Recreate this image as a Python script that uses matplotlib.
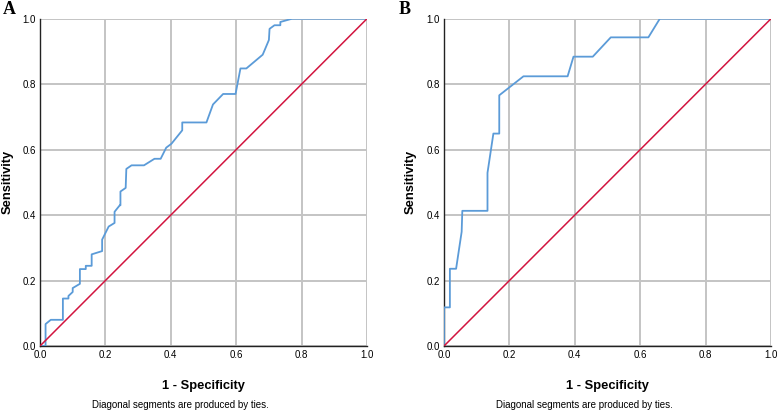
import numpy as np
import matplotlib
matplotlib.use("Agg")
import matplotlib.pyplot as plt

# ROC curve A (1 - specificity, sensitivity)
fpr_a = [0.0, 0.017, 0.017, 0.033, 0.07, 0.07, 0.087, 0.087, 0.10, 0.10, 0.122, 0.122,
         0.14, 0.14, 0.158, 0.158, 0.19, 0.19, 0.21, 0.228, 0.228, 0.244, 0.246, 0.246,
         0.262, 0.264, 0.28, 0.318, 0.35, 0.369, 0.386, 0.402, 0.435, 0.435, 0.509,
         0.529, 0.56, 0.598, 0.613, 0.631, 0.681, 0.687, 0.70, 0.702, 0.717, 0.735,
         0.735, 0.771, 1.0]
tpr_a = [0.0, 0.0, 0.067, 0.08, 0.08, 0.145, 0.145, 0.153, 0.165, 0.177, 0.19, 0.235,
         0.235, 0.245, 0.245, 0.28, 0.29, 0.325, 0.365, 0.376, 0.41, 0.43, 0.43, 0.472,
         0.483, 0.541, 0.552, 0.552, 0.572, 0.572, 0.606, 0.618, 0.659, 0.683, 0.683,
         0.738, 0.77, 0.77, 0.848, 0.848, 0.89, 0.904, 0.935, 0.969, 0.98, 0.98,
         0.99, 1.0, 1.0]

# ROC curve B
fpr_b = [0.0, 0.0, 0.018, 0.018, 0.037, 0.054, 0.056, 0.133, 0.133, 0.151, 0.169,
         0.169, 0.243, 0.378, 0.396, 0.455, 0.51, 0.625, 0.66, 1.0]
tpr_b = [0.0, 0.118, 0.118, 0.236, 0.236, 0.349, 0.413, 0.413, 0.529, 0.649, 0.649,
         0.766, 0.824, 0.824, 0.884, 0.884, 0.943, 0.943, 1.0, 1.0]

ref = [0.0, 1.0]
ticks = [0.0, 0.2, 0.4, 0.6, 0.8, 1.0]
tick_labels = ["0.0", "0.2", "0.4", "0.6", "0.8", "1.0"]

plt.rcParams['font.family'] = ['Liberation Sans', 'DejaVu Sans']

fig = plt.figure(figsize=(7.8, 4.11), dpi=100)
ax_a = fig.add_axes([40 / 780, 65 / 411, 327 / 780, 327.3 / 411])
ax_b = fig.add_axes([444 / 780, 65 / 411, 327 / 780, 327.3 / 411])

for ax, fx, ty, letter, lx, ylx in [(ax_a, fpr_a, tpr_a, "A", 3, -0.082),
                                    (ax_b, fpr_b, tpr_b, "B", 399, -0.085)]:
    ax.plot(fx, ty, color='#5b9bd8', lw=1.3, zorder=3)
    ax.plot(ref, ref, color='#d2143f', lw=1.1, zorder=3)
    ax.set_xlim(0, 1)
    ax.set_ylim(0, 1)
    ax.set_xticks(ticks)
    ax.set_yticks(ticks)
    ax.set_xticklabels(tick_labels)
    ax.set_yticklabels(tick_labels)
    ax.grid(True, color='#c4c4c4', lw=1.4, zorder=0)
    ax.tick_params(length=0, labelsize=7, pad=3)
    for s in ['top', 'right']:
        ax.spines[s].set_visible(False)
    for s in ['left', 'bottom']:
        ax.spines[s].set_color('#222222')
        ax.spines[s].set_linewidth(1.0)
    ax.set_xlabel("1 - Specificity", fontsize=9.3, fontweight='bold')
    ax.xaxis.set_label_coords(0.5, -0.104)
    ax.set_ylabel("Sensitivity", fontsize=9.3, fontweight='bold')
    ax.yaxis.set_label_coords(ylx, 0.5)
    ax.text(0.43, -0.18, "Diagonal segments are produced by ties.", transform=ax.transAxes,
            ha='center', va='center', fontsize=7)
    fig.text(lx / 780, 1 - 10 / 411, letter, fontsize=13, fontweight='bold',
             family='Liberation Serif', ha='left', va='center')

fig.savefig("out.png", dpi=100)
